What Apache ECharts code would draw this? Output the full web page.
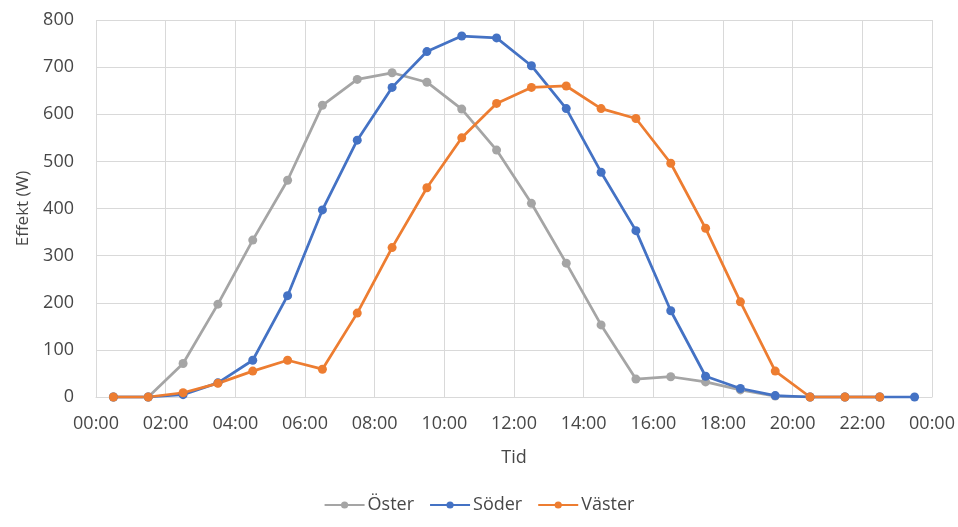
<!DOCTYPE html>
<html>
<head>
<meta charset="utf-8">
<script src="https://cdn.jsdelivr.net/npm/echarts@6/dist/echarts.min.js"></script>
<style>
  html, body { margin: 0; padding: 0; background: #fff; }
  #chart { width: 958px; height: 527px; }
</style>
</head>
<body>
<div id="chart"></div>
<script>
// measurement times (half hours) and power per facade orientation
const times = ["00:30", "01:30", "02:30", "03:30", "04:30", "05:30", "06:30", "07:30",
  "08:30", "09:30", "10:30", "11:30", "12:30", "13:30", "14:30", "15:30",
  "16:30", "17:30", "18:30", "19:30", "20:30", "21:30", "22:30", "23:30"];

const oster = [0, 0, 71, 197, 333, 460, 619, 674, 688, 668, 611, 524,
  411, 284, 153, 38, 43, 32, 15, 2, 0, 0, 0];
const soder = [0, 0, 5, 30, 78, 215, 397, 545, 657, 733, 766, 762,
  703, 612, 477, 353, 183, 44, 18, 3, 0, 0, 0, 0];
const vaster = [0, 0, 9, 29, 55, 78, 59, 178, 317, 444, 550, 623,
  657, 660, 612, 591, 496, 358, 202, 55, 0, 0, 0];

const xTicks = [0, 2, 4, 6, 8, 10, 12, 14, 16, 18, 20, 22, 24];

function toHours(t) {
  const [h, m] = t.split(":").map(Number);
  return h + m / 60;
}

function pairs(values) {
  return values.map((v, i) => [toHours(times[i]), v]);
}

function tickLabel(h) {
  const hh = h % 24;
  return (hh < 10 ? "0" : "") + hh + ":00";
}

const chart = echarts.init(document.getElementById("chart"), null, { renderer: "canvas" });

const font = "'Open Sans', sans-serif";
const textColor = "#474747";
const gridColor = "#d9d9d9";

function lineSeries(name, color, values) {
  return {
    name: name,
    type: "line",
    data: pairs(values),
    symbol: "circle",
    symbolSize: 9,
    showSymbol: true,
    lineStyle: { color: color, width: 2.75 },
    itemStyle: { color: color },
    emphasis: { disabled: true },
    animation: false,
  };
}

chart.setOption({
  animation: false,
  textStyle: { fontFamily: font },
  grid: { left: 96, right: 26, top: 20, bottom: 130 },
  legend: {
    bottom: 8,
    left: "center",
    itemWidth: 40,
    itemHeight: 9,
    itemGap: 15,
    textStyle: { color: textColor, fontSize: 18, fontFamily: font, padding: [0, 0, 0, -2] },
    data: ["Öster", "Söder", "Väster"],
  },
  xAxis: {
    type: "value",
    min: 0,
    max: 24,
    interval: 2,
    name: "Tid",
    nameLocation: "middle",
    nameGap: 52,
    nameTextStyle: { color: textColor, fontSize: 18, fontFamily: font },
    axisLine: { show: true, lineStyle: { color: gridColor, width: 1 } },
    axisTick: { show: false },
    splitLine: { show: true, lineStyle: { color: gridColor, width: 1 } },
    axisLabel: {
      color: textColor,
      fontSize: 18,
      margin: 18,
      showMinLabel: true,
      showMaxLabel: true,
      formatter: (v) => (xTicks.includes(v) ? tickLabel(v) : ""),
    },
  },
  yAxis: {
    type: "value",
    min: 0,
    max: 800,
    interval: 100,
    name: "Effekt (W)",
    nameLocation: "middle",
    nameGap: 64,
    nameRotate: 90,
    nameTextStyle: { color: textColor, fontSize: 17, fontFamily: font },
    axisLine: { show: false },
    axisTick: { show: false },
    splitLine: { show: true, lineStyle: { color: gridColor, width: 1 } },
    axisLabel: { color: textColor, fontSize: 18, margin: 22 },
  },
  series: [
    lineSeries("Öster", "#A5A5A5", oster),
    lineSeries("Söder", "#4472C4", soder),
    lineSeries("Väster", "#ED7D31", vaster),
  ],
});
</script>
</body>
</html>
